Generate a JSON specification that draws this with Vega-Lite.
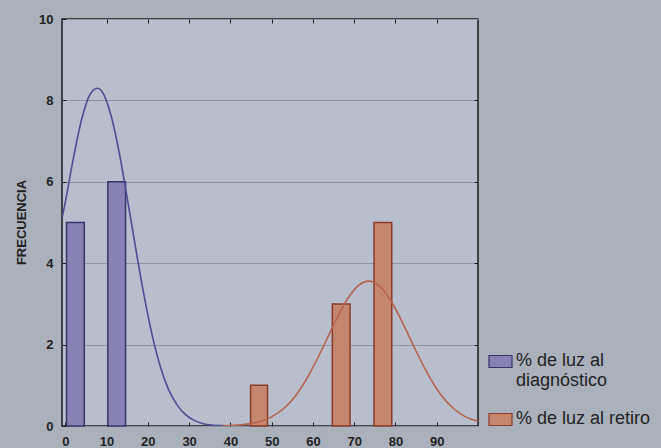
{
  "$schema": "https://vega.github.io/schema/vega-lite/v6.json",
  "width": 416,
  "height": 407,
  "autosize": "none",
  "padding": {"left": 62, "top": 19, "right": 183, "bottom": 22},
  "background": "#abb1bb",
  "config": {
    "view": {"fill": "#b8becb", "stroke": "#1a1a1a", "strokeWidth": 1.5},
    "font": "Liberation Sans"
  },
  "datasets": {
    "barras": [
      {"serie": "% de luz al diagnóstico", "x0": 0.3, "x1": 4.6, "freq": 5},
      {"serie": "% de luz al diagnóstico", "x0": 10.3, "x1": 14.6, "freq": 6},
      {"serie": "% de luz al retiro", "x0": 44.9, "x1": 49.0, "freq": 1},
      {"serie": "% de luz al retiro", "x0": 64.7, "x1": 69.0, "freq": 3},
      {"serie": "% de luz al retiro", "x0": 74.8, "x1": 79.1, "freq": 5}
    ],
    "curvas": [
      {"serie": "% de luz al diagnóstico", "x": -0.8, "y": 5.1},
      {"serie": "% de luz al diagnóstico", "x": 0, "y": 5.5},
      {"serie": "% de luz al diagnóstico", "x": 2, "y": 6.6},
      {"serie": "% de luz al diagnóstico", "x": 4, "y": 7.55},
      {"serie": "% de luz al diagnóstico", "x": 6, "y": 8.15},
      {"serie": "% de luz al diagnóstico", "x": 7.8, "y": 8.3},
      {"serie": "% de luz al diagnóstico", "x": 9, "y": 8.2},
      {"serie": "% de luz al diagnóstico", "x": 11, "y": 7.66},
      {"serie": "% de luz al diagnóstico", "x": 13, "y": 6.75},
      {"serie": "% de luz al diagnóstico", "x": 15, "y": 5.6},
      {"serie": "% de luz al diagnóstico", "x": 17, "y": 4.4},
      {"serie": "% de luz al diagnóstico", "x": 19, "y": 3.25},
      {"serie": "% de luz al diagnóstico", "x": 21, "y": 2.25},
      {"serie": "% de luz al diagnóstico", "x": 23, "y": 1.47},
      {"serie": "% de luz al diagnóstico", "x": 25, "y": 0.9},
      {"serie": "% de luz al diagnóstico", "x": 27, "y": 0.53},
      {"serie": "% de luz al diagnóstico", "x": 29, "y": 0.29},
      {"serie": "% de luz al diagnóstico", "x": 31, "y": 0.15},
      {"serie": "% de luz al diagnóstico", "x": 33, "y": 0.07},
      {"serie": "% de luz al diagnóstico", "x": 35, "y": 0.03},
      {"serie": "% de luz al diagnóstico", "x": 38, "y": 0.01},
      {"serie": "% de luz al diagnóstico", "x": 42, "y": 0},
      {"serie": "% de luz al retiro", "x": 38, "y": 0},
      {"serie": "% de luz al retiro", "x": 41, "y": 0.015},
      {"serie": "% de luz al retiro", "x": 44, "y": 0.046},
      {"serie": "% de luz al retiro", "x": 47, "y": 0.106},
      {"serie": "% de luz al retiro", "x": 50, "y": 0.225},
      {"serie": "% de luz al retiro", "x": 53, "y": 0.436},
      {"serie": "% de luz al retiro", "x": 56, "y": 0.77},
      {"serie": "% de luz al retiro", "x": 59, "y": 1.25},
      {"serie": "% de luz al retiro", "x": 62, "y": 1.84},
      {"serie": "% de luz al retiro", "x": 65, "y": 2.48},
      {"serie": "% de luz al retiro", "x": 68, "y": 3.06},
      {"serie": "% de luz al retiro", "x": 71, "y": 3.45},
      {"serie": "% de luz al retiro", "x": 73.5, "y": 3.56},
      {"serie": "% de luz al retiro", "x": 76, "y": 3.45},
      {"serie": "% de luz al retiro", "x": 79, "y": 3.06},
      {"serie": "% de luz al retiro", "x": 82, "y": 2.48},
      {"serie": "% de luz al retiro", "x": 85, "y": 1.84},
      {"serie": "% de luz al retiro", "x": 88, "y": 1.25},
      {"serie": "% de luz al retiro", "x": 91, "y": 0.77},
      {"serie": "% de luz al retiro", "x": 94, "y": 0.436},
      {"serie": "% de luz al retiro", "x": 97, "y": 0.225},
      {"serie": "% de luz al retiro", "x": 100, "y": 0.12}
    ]
  },
  "resolve": {"axis": {"x": "independent", "y": "independent"}},
  "layer": [
    {
      "data": {"name": "barras"},
      "mark": {"type": "rect", "strokeWidth": 1.5},
      "encoding": {
        "x": {
          "field": "x0", "type": "quantitative",
          "scale": {"domain": [-0.8, 100], "nice": false, "zero": false},
          "axis": {
            "title": null, "values": [0, 10, 20, 30, 40, 50, 60, 70, 80, 90],
            "domain": false, "grid": false, "tickSize": -4, "tickColor": "#1a1a1a",
            "labelFontWeight": "bold", "labelFontSize": 13, "labelColor": "#222222",
            "labelPadding": 13, "labelFlush": false
          }
        },
        "x2": {"field": "x1"},
        "y": {
          "field": "freq", "type": "quantitative",
          "scale": {"domain": [0, 10], "nice": false},
          "axis": {
            "title": "FRECUENCIA", "values": [0, 2, 4, 6, 8, 10],
            "domain": false, "grid": true, "gridColor": "#8c93a1", "gridWidth": 1,
            "tickSize": -4, "tickColor": "#1a1a1a",
            "labelFontWeight": "bold", "labelFontSize": 13, "labelColor": "#222222",
            "labelPadding": 13, "labelFlush": false,
            "titleFontSize": 13, "titleFontWeight": "bold", "titleColor": "#222222",
            "titleX": -41, "titleY": 203, "titleAngle": 270, "titleAlign": "center", "titleBaseline": "middle"
          }
        },
        "y2": {"datum": 0},
        "fill": {
          "field": "serie", "type": "nominal",
          "scale": {"domain": ["% de luz al diagnóstico", "% de luz al retiro"], "range": ["#8782b3", "#c4866f"]},
          "legend": {
            "title": null, "orient": "none", "legendX": 426, "legendY": 330, "padding": 0,
            "symbolType": "M-1,-0.52H1V0.52H-1Z", "symbolSize": 529, "symbolStrokeWidth": 1.2,
            "symbolStrokeColor": "#4a4470",
            "labelFontSize": 18, "labelColor": "#222222", "labelOffset": 3, "labelLimit": 300,
            "labelBaseline": "top", "labelLineHeight": 19, "rowPadding": 17,
            "labelExpr": "datum.label == '% de luz al diagnóstico' ? ['% de luz al', 'diagnóstico'] : datum.label",
            "encode": {
              "labels": {"update": {"dy": {"value": -10}}},
              "symbols": {"update": {"stroke": {"scale": "stroke", "field": "value"}}}
            }
          }
        },
        "stroke": {
          "field": "serie", "type": "nominal",
          "scale": {"domain": ["% de luz al diagnóstico", "% de luz al retiro"], "range": ["#37346b", "#8c3a2a"]},
          "legend": null
        }
      }
    },
    {
      "data": {"name": "curvas"},
      "mark": {"type": "line", "strokeWidth": 1.6, "interpolate": "monotone", "clip": true},
      "encoding": {
        "x": {
          "field": "x", "type": "quantitative",
          "axis": {
            "orient": "top", "title": null, "labels": false, "domain": false, "grid": false,
            "values": [10, 20, 30, 40, 50, 60, 70, 80, 90], "tickSize": -4, "tickColor": "#1a1a1a"
          }
        },
        "y": {
          "field": "y", "type": "quantitative",
          "axis": {
            "orient": "right", "title": null, "labels": false, "domain": false, "grid": false,
            "values": [2, 4, 6, 8], "tickSize": -4, "tickColor": "#1a1a1a"
          }
        },
        "detail": {"field": "serie"},
        "color": {
          "field": "serie", "type": "nominal",
          "scale": {"domain": ["% de luz al diagnóstico", "% de luz al retiro"], "range": ["#4f4c92", "#b5634e"]},
          "legend": null
        }
      }
    }
  ]
}
